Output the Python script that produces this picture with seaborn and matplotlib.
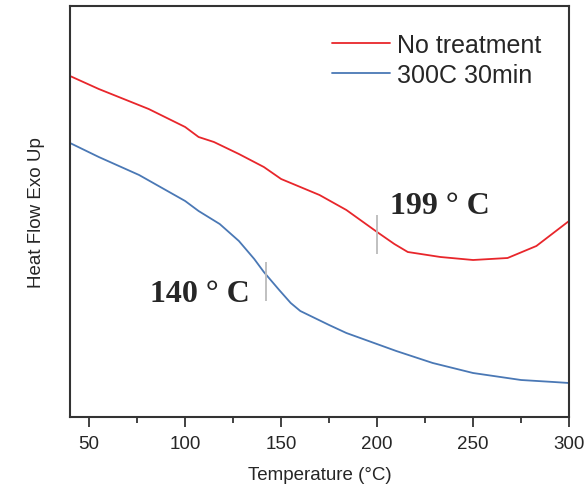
import numpy as np
import pandas as pd
import matplotlib
matplotlib.use("Agg")
import matplotlib.pyplot as plt
from matplotlib.ticker import MultipleLocator
import seaborn as sns

# Temperature (°C) and heat flow (arbitrary units, exo up)
temp_untreated = [40, 55, 81, 100, 107, 115, 128, 141, 150, 160, 170, 184, 200, 209, 216, 233, 250, 268, 283, 300]
hf_untreated = [3.41, 3.28, 3.08, 2.90, 2.80, 2.75, 2.63, 2.50, 2.38, 2.30, 2.22, 2.07, 1.85, 1.73, 1.65, 1.60, 1.57, 1.59, 1.71, 1.96]

temp_treated = [40, 55, 76, 100, 107, 118, 128, 136, 141, 149, 155, 160, 175, 184, 210, 229, 250, 275, 292, 300]
hf_treated = [2.74, 2.60, 2.42, 2.16, 2.06, 1.93, 1.76, 1.58, 1.45, 1.27, 1.14, 1.06, 0.92, 0.84, 0.66, 0.54, 0.44, 0.37, 0.35, 0.34]

series_names = ["No treatment", "300C 30min"]
series_colors = ["#E8262B", "#4A78B5"]

# Transition markers (temperature, low, high)
mark_temps = [200, 142]
mark_low = [1.63, 1.16]
mark_high = [2.02, 1.55]
mark_labels = ["199 ° C", "140 ° C"]

df = pd.concat([
    pd.DataFrame({"Temperature": temp_untreated, "HeatFlow": hf_untreated, "Sample": series_names[0]}),
    pd.DataFrame({"Temperature": temp_treated, "HeatFlow": hf_treated, "Sample": series_names[1]}),
])

sns.set_style("white")
plt.rcParams["font.family"] = ["Liberation Sans", "DejaVu Sans"]

fig = plt.figure(figsize=(5.87, 4.89), dpi=100)
ax = fig.add_axes([70/587, 71/489, 499/587, 411/489])

sns.lineplot(data=df, x="Temperature", y="HeatFlow", hue="Sample",
             palette=dict(zip(series_names, series_colors)), linewidth=1.3,
             sort=False, estimator=None, ax=ax)

for t, lo, hi in zip(mark_temps, mark_low, mark_high):
    ax.vlines(t, lo, hi, color="#BBBBBB", linewidth=1.3)

ax.text(206.5, 2.12, mark_labels[0], fontsize=23, fontweight="bold",
        family=["Liberation Serif", "DejaVu Serif"], ha="left", va="center")
ax.text(81.5, 1.23, mark_labels[1], fontsize=23, fontweight="bold",
        family=["Liberation Serif", "DejaVu Serif"], ha="left", va="center")

ax.set_xlim(40, 300)
ax.set_ylim(0, 4.11)
ax.xaxis.set_major_locator(MultipleLocator(50))
ax.xaxis.set_minor_locator(MultipleLocator(25))
ax.set_yticks([])
ax.tick_params(axis="x", which="major", direction="out", length=7, width=1.3,
               color="#333333", labelsize=13.5, pad=6, bottom=True, top=False)
ax.tick_params(axis="x", which="minor", direction="out", length=4, width=1.3,
               color="#333333", bottom=True, top=False)
for s in ax.spines.values():
    s.set_color("#333333")
    s.set_linewidth(1.5)

ax.set_xlabel("Temperature (°C)", fontsize=13.5, labelpad=10)
ax.set_ylabel("Heat Flow Exo Up", fontsize=13.5, labelpad=18)

leg = ax.legend(loc="upper right", bbox_to_anchor=(0.99, 0.99), frameon=False,
                fontsize=18, handlelength=2.3, handletextpad=0.3, labelspacing=0.25,
                title=None)
for line in leg.get_lines():
    line.set_linewidth(1.3)

fig.savefig("out.png", dpi=100)
